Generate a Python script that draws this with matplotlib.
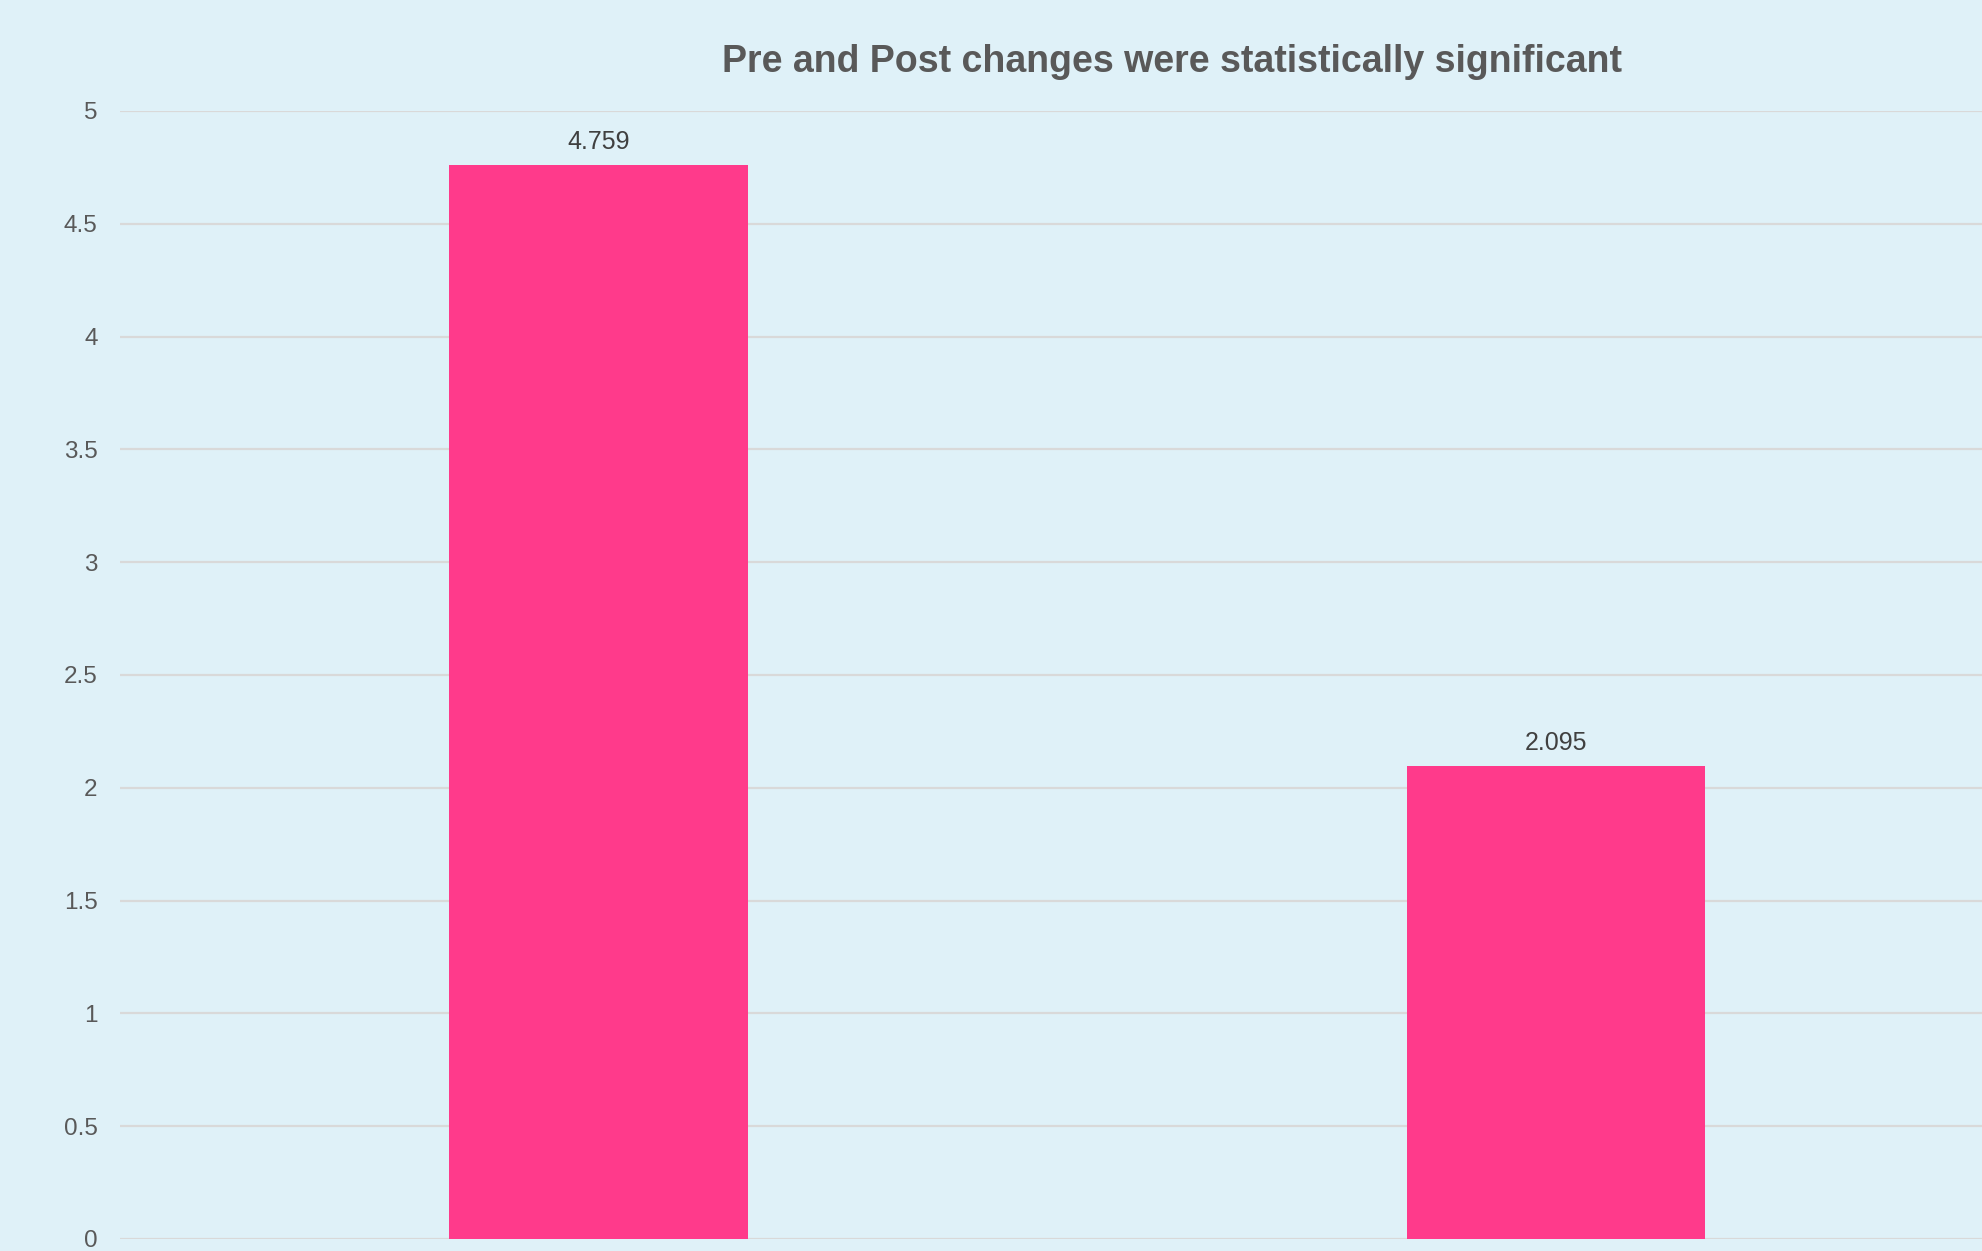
import matplotlib
matplotlib.use("Agg")
import matplotlib.pyplot as plt

plt.rcParams['font.family'] = ['Liberation Sans', 'DejaVu Sans']

categories = ["Pre", "Post"]
values = [4.759, 2.095]
yticks = [0, 0.5, 1, 1.5, 2, 2.5, 3, 3.5, 4, 4.5, 5]
title = "Pre and Post changes were statistically significant"

bg = "#dff1f8"
bar_color = "#ff3a8b"
grid_color = "#d9d9d9"
text_grey = "#595959"

fig = plt.figure(figsize=(19.82, 12.51), dpi=100, facecolor=bg)
ax = fig.add_axes([0.0605, 0.0096, 0.966, 0.9017], facecolor=bg)

x = list(range(len(categories)))
bars = ax.bar(x, values, width=0.312, color=bar_color, zorder=3)

for b, v in zip(bars, values):
    ax.annotate(f"{v:.3f}", (b.get_x() + b.get_width() / 2, v),
                xytext=(0, 8.5), textcoords="offset points",
                ha="center", va="bottom", fontsize=18, color="#404040")

ax.set_xlim(-0.5, 1.5)
ax.set_ylim(0, 5)
ax.set_yticks(yticks)
ax.set_yticklabels([f"{t:g}" for t in yticks])
ax.set_xticks(x)
ax.tick_params(axis="x", labelbottom=False, length=0)
ax.tick_params(axis="y", length=0, pad=16, labelsize=17.5, labelcolor=text_grey)
ax.yaxis.grid(True, color=grid_color, linewidth=1.6, zorder=0)
for s in ax.spines.values():
    s.set_visible(False)
ax.set_axisbelow(True)

fig.text(1172 / 1982, 1 - 61.5 / 1251, title, ha="center", va="center",
         fontsize=27, fontweight="bold", color=text_grey)

fig.savefig("out.png", dpi=100, facecolor=bg)
